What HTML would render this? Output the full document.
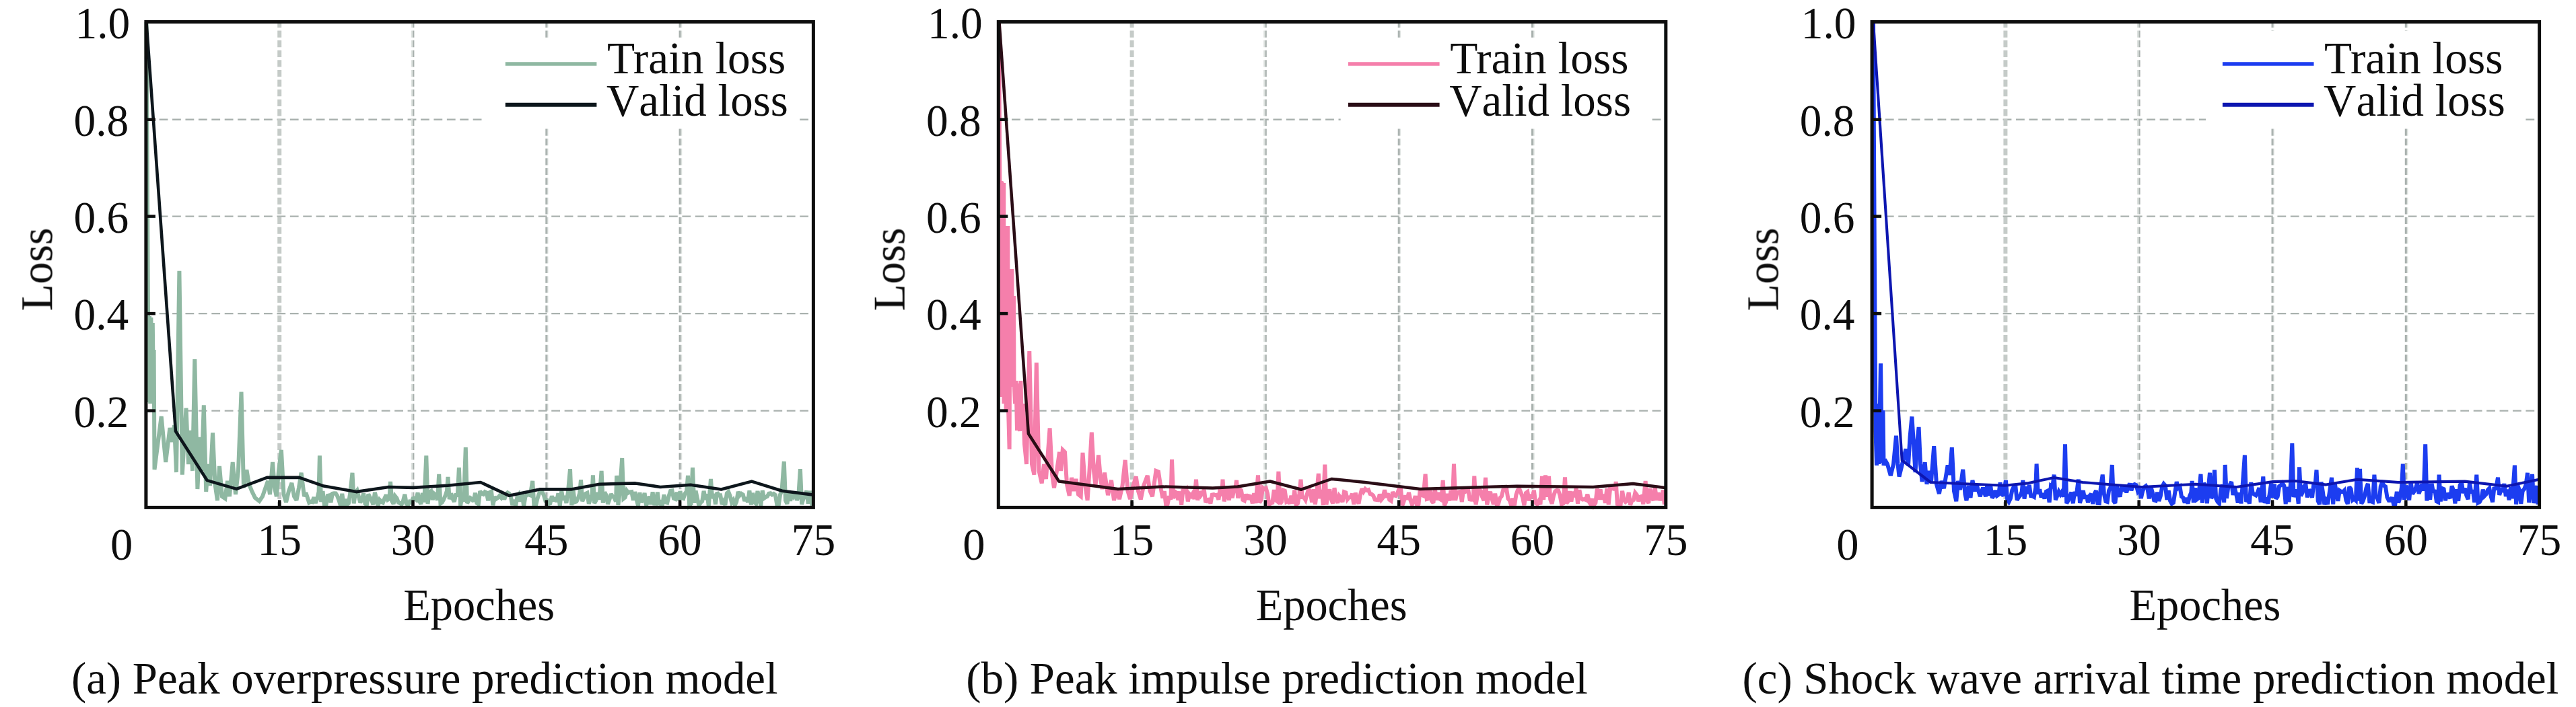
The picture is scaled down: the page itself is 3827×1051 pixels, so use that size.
<!DOCTYPE html>
<html><head><meta charset="utf-8"><title>Loss curves</title>
<style>html,body{margin:0;padding:0;background:#fff}body{width:3827px;height:1051px;overflow:hidden}svg{display:block}text{font-family:"Liberation Serif",serif;font-size:67.6px;fill:#0a0a0a}</style>
</head><body>
<svg width="3827" height="1051" viewBox="0 0 3827 1051">
<rect x="0" y="0" width="3827" height="1051" fill="#ffffff"/>
<defs><filter id="soft" x="0" y="0" width="3827" height="1051" filterUnits="userSpaceOnUse"><feGaussianBlur stdDeviation="0.65"/></filter></defs>
<g filter="url(#soft)">
<g>
<line x1="217.2" y1="177.7" x2="1208.4" y2="177.7" stroke="#a9b1ae" stroke-width="2.4" stroke-dasharray="12.8 6.62"/>
<line x1="217.2" y1="321.6" x2="1208.4" y2="321.6" stroke="#a9b1ae" stroke-width="2.4" stroke-dasharray="12.8 6.62"/>
<line x1="217.2" y1="466.1" x2="1208.4" y2="466.1" stroke="#a9b1ae" stroke-width="2.4" stroke-dasharray="12.8 6.62"/>
<line x1="217.2" y1="610.6" x2="1208.4" y2="610.6" stroke="#a9b1ae" stroke-width="2.4" stroke-dasharray="12.8 6.62"/>
<line x1="415.2" y1="30.9" x2="415.2" y2="754.4" stroke="#c5cbc8" stroke-width="6.0" stroke-dasharray="10.2 4.4"/>
<line x1="612.1" y1="30.9" x2="612.1" y2="754.4" stroke="#dde2df" stroke-width="2.6" stroke-dasharray="10.2 4.4"/>
<line x1="614.3" y1="30.9" x2="614.3" y2="754.4" stroke="#a8b0ad" stroke-width="2.2" stroke-dasharray="10.2 4.4"/>
<line x1="813.8" y1="30.9" x2="813.8" y2="754.4" stroke="#dde2df" stroke-width="1.4" stroke-dasharray="10.2 4.4"/>
<line x1="811.8" y1="30.9" x2="811.8" y2="754.4" stroke="#acb4b1" stroke-width="3.0" stroke-dasharray="10.2 4.4"/>
<line x1="1012.4" y1="30.9" x2="1012.4" y2="754.4" stroke="#dde2df" stroke-width="1.7" stroke-dasharray="10.2 4.4"/>
<line x1="1010.1" y1="30.9" x2="1010.1" y2="754.4" stroke="#a8b0ad" stroke-width="3.0" stroke-dasharray="10.2 4.4"/>
<rect x="720.0" y="57.0" width="466.0" height="130.0" fill="#ffffff"/>
<polyline fill="none" stroke="#8fb8a2" stroke-width="6" stroke-linejoin="miter" stroke-miterlimit="2.5" points="217.5,33.0 219.0,300.0 220.0,468.0 221.0,598.0 222.0,470.0 223.2,600.0 224.4,472.0 225.6,596.0 226.8,480.0 228.0,590.0 228.6,520.0 229.5,698.0 239.7,619.0 246.2,687.0 252.4,636.0 256.0,657.0 259.0,632.0 262.0,702.0 266.4,402.7 270.8,705.6 276.5,606.7 280.0,690.0 283.0,640.0 286.0,700.0 289.3,534.0 293.4,727.0 297.0,650.0 299.5,700.0 302.8,602.4 306.2,731.0 309.0,690.0 312.0,722.0 316.0,643.4 319.5,720.0 323.0,744.0 326.0,693.0 330.0,738.0 334.4,741.0 338.0,715.0 341.0,738.0 345.7,687.0 350.0,735.0 354.0,700.0 358.5,582.6 362.0,725.0 366.4,698.6 370.0,720.0 374.0,729.7 379.0,740.0 385.3,745.0 390.0,738.0 393.8,727.0 398.0,715.0 401.0,735.0 405.0,687.0 408.0,725.0 410.8,738.0 414.0,700.0 417.9,668.9 421.5,735.0 425.0,746.7 429.0,730.0 433.4,718.0 437.0,738.0 440.5,743.8 444.0,725.0 447.6,702.8 452.0,738.0 454.4,732.4 456.8,739.7 459.2,747.1 461.6,745.6 464.0,746.2 466.4,739.2 468.8,747.8 471.2,741.5 473.6,730.9 474.9,677.4 477.1,746.1 479.5,730.1 481.9,750.9 484.3,751.3 486.7,736.9 489.1,736.3 491.5,747.0 493.9,733.8 496.3,733.2 498.7,733.4 501.1,737.2 503.5,743.7 505.9,751.6 508.3,734.0 510.7,751.5 513.1,742.1 515.5,750.2 517.9,748.2 520.3,732.8 523.5,702.8 525.7,748.4 528.1,731.9 530.5,729.1 532.9,738.3 535.3,747.2 537.7,742.3 540.1,733.5 542.5,748.8 544.9,750.5 547.3,734.6 549.7,739.5 552.1,744.0 554.5,750.2 556.9,732.0 559.3,742.0 561.7,751.8 564.1,743.3 566.5,745.9 568.9,747.2 571.3,740.9 573.7,735.8 576.1,742.9 578.5,741.4 580.0,716.0 582.2,744.8 584.6,749.1 587.0,737.5 589.4,740.4 591.8,746.9 594.2,748.1 596.6,749.9 599.0,744.3 601.4,734.9 603.8,748.9 606.2,750.4 608.6,745.8 611.0,747.0 613.4,741.1 615.8,740.6 618.2,742.7 620.6,732.5 623.0,744.9 625.4,749.2 627.8,732.9 630.2,746.7 633.3,677.4 635.5,749.0 637.9,731.8 640.3,730.2 642.7,743.0 645.1,734.1 647.5,736.3 649.9,743.6 652.2,705.0 654.4,748.4 656.8,746.6 659.2,742.4 661.6,736.8 664.0,729.3 665.5,709.0 667.7,742.1 670.1,733.5 672.5,741.3 674.9,745.9 677.3,733.9 679.7,738.2 681.9,695.2 684.1,751.8 686.5,738.4 688.9,745.8 691.8,665.2 694.0,748.0 696.4,744.5 698.8,740.2 701.2,741.8 703.6,745.5 706.0,732.8 708.4,747.8 710.8,749.5 713.2,730.1 715.6,733.7 718.0,734.8 720.4,731.2 722.8,732.3 725.2,744.1 727.6,731.9 730.0,730.6 732.4,751.2 734.8,738.4 737.2,741.7 739.6,740.1 742.0,737.1 744.4,739.7 746.8,733.6 749.2,742.6 751.7,734.9 754.1,732.4 756.5,733.9 758.9,738.7 761.3,750.9 763.7,743.1 766.1,752.0 768.5,738.4 770.9,735.1 773.3,745.7 775.7,733.5 778.1,752.5 780.5,738.2 782.9,735.4 785.3,735.4 787.7,736.2 791.2,715.0 793.4,751.8 795.8,752.3 798.2,742.1 800.6,734.5 803.0,729.2 805.4,730.9 807.8,736.0 810.2,744.1 812.6,743.7 815.0,749.1 817.4,748.3 819.8,737.3 822.2,744.8 824.6,739.4 827.0,746.1 829.4,733.3 831.8,751.9 834.2,729.5 836.6,743.5 839.0,737.3 841.4,747.8 843.8,732.4 847.0,697.2 849.2,751.2 851.6,729.1 854.0,746.3 856.4,745.5 858.8,740.9 861.2,733.1 863.0,713.3 865.2,745.2 867.6,739.5 870.0,734.0 872.4,732.8 874.8,748.8 877.2,741.9 879.6,735.4 880.9,706.5 883.1,748.1 885.5,743.9 887.9,732.2 890.3,742.7 893.6,700.0 895.8,747.6 898.2,731.6 900.6,736.1 903.0,749.3 905.4,742.6 907.8,734.2 910.2,738.2 912.6,739.8 915.0,745.6 916.2,707.0 918.4,750.9 920.8,731.1 924.2,681.0 926.4,741.3 928.8,739.4 931.2,729.5 933.6,732.6 936.0,731.5 938.4,731.1 940.8,743.7 943.2,731.2 945.6,742.3 948.0,751.7 950.4,732.3 952.8,746.8 955.2,742.7 957.6,733.0 960.0,751.3 962.4,746.3 964.8,737.9 967.2,749.9 969.6,731.4 972.0,748.6 974.4,748.8 976.8,731.7 979.2,750.5 981.6,747.4 984.1,750.5 986.5,735.6 988.9,746.4 991.3,747.3 993.7,737.2 996.1,729.8 998.5,729.3 1000.9,740.9 1003.3,741.9 1005.7,731.9 1008.1,743.8 1010.5,730.2 1012.9,740.2 1015.3,741.0 1017.7,733.8 1020.1,730.1 1022.0,707.0 1024.2,751.4 1026.6,749.0 1029.0,695.2 1031.2,747.7 1033.6,729.7 1036.0,741.3 1038.4,751.6 1040.8,747.0 1043.2,745.2 1045.6,729.9 1048.0,742.6 1050.4,734.5 1052.8,752.2 1056.0,712.0 1058.2,740.9 1060.6,734.2 1063.0,749.7 1065.4,731.8 1067.8,736.1 1070.2,736.2 1072.6,749.7 1075.0,745.4 1077.4,750.9 1079.8,733.5 1082.2,731.1 1084.6,737.1 1087.0,747.0 1089.4,743.5 1091.8,751.0 1094.2,745.8 1096.6,730.9 1099.0,736.4 1101.4,733.8 1103.8,735.3 1106.2,744.7 1108.6,739.4 1111.0,746.8 1113.4,729.4 1115.9,750.4 1118.3,732.8 1120.7,746.5 1123.1,748.8 1125.5,730.0 1127.9,741.7 1130.3,751.9 1132.7,729.2 1135.1,740.7 1137.5,739.0 1139.9,738.0 1142.3,733.6 1144.7,733.2 1147.1,735.3 1149.5,734.1 1151.9,735.9 1154.3,750.2 1156.7,751.3 1159.1,735.1 1161.5,729.6 1164.8,686.0 1167.0,743.9 1169.4,749.1 1171.8,733.1 1174.2,744.6 1176.6,731.2 1179.0,737.3 1181.4,733.0 1183.8,743.5 1186.2,737.7 1188.9,697.2 1191.1,749.8 1193.5,741.2 1195.9,738.5 1198.3,729.5 1200.7,748.7 1203.1,729.9 1205.5,740.7 1206.4,752.2"/>
<polyline fill="none" stroke="#0e181c" stroke-width="4.6" stroke-linejoin="round" points="217.5,33.0 260.9,641.0 307.6,714.1 351.4,726.9 396.7,709.9 444.7,709.9 481.0,722.6 529.2,731.1 577.3,724.0 614.0,724.9 665.0,721.8 714.0,717.0 756.5,736.8 801.7,727.4 848.4,727.4 890.8,719.8 944.0,718.4 981.0,724.0 1026.0,720.7 1071.5,727.5 1116.7,715.6 1162.0,729.8 1206.5,735.4"/>
<rect x="216.9" y="32.5" width="991.5" height="721.9" fill="none" stroke="#080a0a" stroke-width="5"/>
<line x1="216.9" y1="177.7" x2="230.9" y2="177.7" stroke="#080a0a" stroke-width="4.5"/>
<line x1="216.9" y1="321.6" x2="230.9" y2="321.6" stroke="#080a0a" stroke-width="4.5"/>
<line x1="216.9" y1="466.1" x2="230.9" y2="466.1" stroke="#080a0a" stroke-width="4.5"/>
<line x1="216.9" y1="610.6" x2="230.9" y2="610.6" stroke="#080a0a" stroke-width="4.5"/>
<line x1="415.2" y1="754.4" x2="415.2" y2="743.4" stroke="#080a0a" stroke-width="4.5"/>
<line x1="613.5" y1="754.4" x2="613.5" y2="743.4" stroke="#080a0a" stroke-width="4.5"/>
<line x1="811.8" y1="754.4" x2="811.8" y2="743.4" stroke="#080a0a" stroke-width="4.5"/>
<line x1="1010.1" y1="754.4" x2="1010.1" y2="743.4" stroke="#080a0a" stroke-width="4.5"/>
<text transform="translate(193.3,56.5) scale(0.9670,1)" text-anchor="end">1.0</text>
<text transform="translate(191.3,201.7) scale(0.9670,1)" text-anchor="end">0.8</text>
<text transform="translate(191.3,345.6) scale(0.9670,1)" text-anchor="end">0.6</text>
<text transform="translate(191.3,490.1) scale(0.9670,1)" text-anchor="end">0.4</text>
<text transform="translate(191.3,634.6) scale(0.9670,1)" text-anchor="end">0.2</text>
<text transform="translate(180.6,832.2) scale(0.9850,1)" text-anchor="middle">0</text>
<text transform="translate(415.2,824.6) scale(0.9670,1)" text-anchor="middle">15</text>
<text transform="translate(613.5,824.6) scale(0.9670,1)" text-anchor="middle">30</text>
<text transform="translate(811.8,824.6) scale(0.9670,1)" text-anchor="middle">45</text>
<text transform="translate(1010.1,824.6) scale(0.9670,1)" text-anchor="middle">60</text>
<text transform="translate(1208.4,824.6) scale(0.9670,1)" text-anchor="middle">75</text>
<text transform="translate(711.7,922.3) scale(0.9820,1)" text-anchor="middle">Epoches</text>
<text transform="translate(77.3,400.5) rotate(-90) scale(0.9690,1)" text-anchor="middle">Loss</text>
<text transform="translate(630.7,1030.8) scale(0.9880,1)" text-anchor="middle">(a) Peak overpressure prediction model</text>
<line x1="750.8" y1="95" x2="886.4" y2="95" stroke="#8fb8a2" stroke-width="5.7"/>
<line x1="750.8" y1="155.8" x2="886.4" y2="155.8" stroke="#0e181c" stroke-width="6"/>
<text transform="translate(902.0,109.0) scale(0.9970,1)" text-anchor="start">Train loss</text>
<text transform="translate(901.0,171.9) scale(0.9910,1)" text-anchor="start" style="font-kerning:none">Valid loss</text>
</g>
<g>
<line x1="1483.6" y1="177.7" x2="2474.8" y2="177.7" stroke="#a9b1ae" stroke-width="2.4" stroke-dasharray="12.8 6.62"/>
<line x1="1483.6" y1="321.6" x2="2474.8" y2="321.6" stroke="#a9b1ae" stroke-width="2.4" stroke-dasharray="12.8 6.62"/>
<line x1="1483.6" y1="466.1" x2="2474.8" y2="466.1" stroke="#a9b1ae" stroke-width="2.4" stroke-dasharray="12.8 6.62"/>
<line x1="1483.6" y1="610.6" x2="2474.8" y2="610.6" stroke="#a9b1ae" stroke-width="2.4" stroke-dasharray="12.8 6.62"/>
<line x1="1681.6" y1="30.9" x2="1681.6" y2="754.4" stroke="#c5cbc8" stroke-width="6.0" stroke-dasharray="10.2 4.4"/>
<line x1="1878.5" y1="30.9" x2="1878.5" y2="754.4" stroke="#dde2df" stroke-width="2.6" stroke-dasharray="10.2 4.4"/>
<line x1="1880.7" y1="30.9" x2="1880.7" y2="754.4" stroke="#a8b0ad" stroke-width="2.2" stroke-dasharray="10.2 4.4"/>
<line x1="2080.2" y1="30.9" x2="2080.2" y2="754.4" stroke="#dde2df" stroke-width="1.4" stroke-dasharray="10.2 4.4"/>
<line x1="2078.2" y1="30.9" x2="2078.2" y2="754.4" stroke="#acb4b1" stroke-width="3.0" stroke-dasharray="10.2 4.4"/>
<line x1="2278.8" y1="30.9" x2="2278.8" y2="754.4" stroke="#dde2df" stroke-width="1.7" stroke-dasharray="10.2 4.4"/>
<line x1="2276.5" y1="30.9" x2="2276.5" y2="754.4" stroke="#a8b0ad" stroke-width="3.0" stroke-dasharray="10.2 4.4"/>
<rect x="1991.7" y="57.0" width="460.7" height="130.0" fill="#ffffff"/>
<polyline fill="none" stroke="#f57fab" stroke-width="6" stroke-linejoin="miter" stroke-miterlimit="2.5" points="1484.0,33.0 1485.3,270.0 1488.5,272.0 1488.8,590.0 1491.2,272.0 1491.5,600.0 1494.3,336.0 1494.6,610.0 1497.3,336.0 1497.6,590.0 1499.6,668.0 1500.6,400.0 1501.0,575.0 1503.4,400.0 1503.8,566.0 1506.0,440.0 1506.5,566.0 1508.0,600.0 1509.5,566.0 1511.0,640.0 1512.5,570.0 1514.0,630.0 1515.0,641.0 1516.5,566.0 1518.0,640.0 1520.0,600.0 1522.0,660.0 1525.0,690.0 1529.3,522.0 1533.0,690.0 1536.4,705.6 1539.8,539.0 1543.5,700.0 1547.7,718.4 1551.0,690.0 1554.0,712.0 1559.6,636.4 1563.0,705.0 1566.0,725.4 1570.0,700.0 1574.0,672.0 1576.0,700.0 1578.8,668.9 1582.0,672.0 1585.0,720.0 1588.7,736.8 1592.0,710.0 1595.0,730.0 1598.5,712.0 1602.0,735.0 1605.7,738.0 1608.5,673.0 1612.0,720.0 1615.6,743.8 1618.5,700.0 1621.8,642.6 1625.0,700.0 1627.5,722.0 1632.0,676.5 1635.0,712.0 1637.5,727.0 1641.0,702.8 1646.0,736.0 1651.0,714.0 1655.0,743.8 1659.0,728.0 1663.0,742.0 1667.5,722.0 1671.6,683.9 1675.5,730.0 1679.0,742.0 1683.5,722.0 1687.7,708.5 1691.0,730.0 1694.8,742.4 1699.0,722.0 1704.7,707.0 1708.5,730.0 1712.0,738.0 1717.4,700.0 1721.0,701.4 1725.0,728.0 1727.4,740.4 1729.8,730.2 1732.2,750.6 1734.6,749.5 1737.0,737.4 1739.4,742.6 1741.0,683.0 1743.2,741.1 1745.6,730.9 1748.0,732.6 1750.4,743.3 1752.8,730.6 1755.2,750.7 1757.6,726.9 1760.0,730.1 1762.4,727.4 1764.8,745.4 1767.2,734.7 1769.6,737.5 1772.0,733.6 1774.4,741.9 1777.0,712.7 1779.2,743.6 1781.6,730.5 1784.0,736.4 1786.4,733.1 1788.8,727.9 1791.2,746.8 1793.6,743.0 1796.0,742.6 1798.4,748.4 1800.8,735.5 1803.2,735.1 1805.6,736.2 1808.0,735.7 1810.4,742.7 1812.8,725.2 1815.2,737.3 1816.5,712.7 1818.7,745.3 1821.1,734.2 1823.5,725.6 1825.9,743.7 1828.3,725.3 1830.7,740.0 1833.1,729.1 1835.5,725.9 1837.0,714.0 1839.2,740.6 1841.6,726.7 1844.0,729.0 1846.4,743.1 1848.8,744.3 1851.2,734.6 1853.6,742.3 1856.0,737.6 1858.4,738.2 1860.8,748.2 1863.2,733.2 1865.6,748.1 1869.0,706.5 1871.2,747.4 1873.6,743.1 1876.0,725.2 1878.4,727.2 1880.8,725.8 1883.2,734.2 1885.6,750.1 1888.0,748.2 1890.4,747.2 1892.8,728.2 1895.2,743.7 1897.6,745.5 1899.4,700.8 1901.6,749.0 1904.0,746.0 1906.4,728.7 1908.8,729.7 1911.2,746.0 1913.6,744.6 1916.0,748.6 1918.4,736.8 1920.8,748.6 1923.2,728.7 1925.6,750.4 1928.0,748.4 1930.4,733.9 1932.5,712.7 1934.7,739.1 1937.1,739.5 1939.5,743.3 1941.9,734.3 1944.3,726.5 1946.7,732.4 1949.1,746.8 1951.5,727.4 1953.9,749.8 1956.3,731.6 1958.8,704.0 1961.0,741.0 1963.4,728.0 1965.8,751.0 1968.3,690.7 1970.5,750.2 1972.9,733.5 1975.3,727.5 1977.7,742.3 1980.1,748.5 1982.5,725.3 1984.9,741.8 1987.3,747.7 1989.7,737.2 1992.1,740.1 1994.5,746.3 1996.9,731.3 1999.3,732.2 2001.7,742.5 2004.1,739.6 2006.5,739.2 2008.9,733.9 2011.3,749.8 2013.7,732.6 2016.1,743.0 2018.5,748.7 2020.9,735.6 2023.3,726.4 2025.7,730.8 2028.2,726.8 2030.6,728.9 2033.0,728.2 2035.4,734.1 2037.8,734.8 2040.2,736.9 2042.6,742.6 2045.0,742.9 2047.4,743.2 2049.8,734.7 2052.2,742.6 2054.6,739.6 2057.0,728.4 2059.4,739.5 2061.8,733.4 2064.2,742.9 2066.6,744.5 2069.0,731.4 2071.4,736.5 2073.8,737.1 2076.2,732.9 2078.6,726.1 2081.0,726.3 2083.4,751.3 2085.8,744.6 2088.2,736.6 2090.6,742.7 2093.0,732.1 2095.5,743.8 2097.9,750.2 2100.3,745.5 2102.7,737.3 2105.1,751.1 2107.5,749.4 2109.9,726.5 2112.3,735.9 2114.7,737.0 2117.6,704.8 2119.8,741.9 2122.2,741.3 2124.6,728.8 2127.0,744.8 2129.4,747.7 2131.8,726.6 2134.2,743.3 2136.6,732.0 2139.0,741.9 2141.4,743.3 2143.7,714.0 2145.9,751.2 2148.3,746.1 2150.7,734.0 2153.1,744.3 2155.5,728.9 2157.9,743.9 2160.0,689.5 2162.2,743.8 2164.6,732.0 2167.0,731.3 2169.4,730.7 2171.8,746.1 2174.2,727.5 2176.6,731.2 2179.0,730.1 2181.4,729.2 2183.8,744.3 2186.2,740.6 2188.6,742.6 2190.3,707.6 2192.5,750.2 2194.9,736.9 2197.3,726.0 2199.7,730.0 2202.1,738.7 2204.5,744.0 2207.0,710.0 2209.2,750.4 2211.6,738.5 2214.0,731.0 2216.4,740.7 2218.8,749.8 2221.2,733.8 2223.6,749.7 2226.0,749.0 2228.4,740.3 2230.8,737.7 2233.2,728.4 2235.6,727.9 2238.0,726.1 2240.4,741.2 2242.8,743.9 2245.2,751.3 2247.6,741.0 2250.0,751.3 2252.4,735.7 2254.8,728.5 2257.2,726.6 2259.6,732.6 2262.0,739.1 2264.4,751.1 2266.9,732.9 2269.3,731.2 2271.7,744.2 2274.1,735.3 2276.5,739.8 2278.9,729.0 2281.3,747.6 2283.7,749.4 2286.1,745.0 2288.5,749.8 2291.0,708.0 2293.2,742.7 2296.0,706.5 2298.2,738.7 2301.0,708.0 2303.2,742.3 2305.6,748.8 2308.0,737.4 2310.4,730.3 2312.8,729.0 2315.2,729.4 2317.6,736.6 2320.0,749.5 2322.4,748.4 2325.0,709.4 2327.2,748.3 2329.6,745.0 2332.0,730.1 2334.4,745.6 2336.8,730.9 2339.2,738.9 2341.6,725.9 2344.0,748.6 2346.4,728.4 2348.8,740.7 2351.2,742.5 2353.6,742.1 2356.0,743.1 2358.4,734.8 2360.8,746.0 2363.2,749.9 2365.6,741.4 2368.0,751.0 2370.4,747.5 2372.8,726.5 2375.2,742.8 2377.6,727.4 2380.0,742.5 2382.4,734.8 2384.9,747.6 2387.3,726.2 2389.7,750.1 2392.1,726.2 2394.5,726.5 2396.9,725.1 2399.3,728.3 2400.7,716.0 2402.9,751.3 2405.3,747.1 2407.7,749.3 2410.1,729.9 2412.5,743.2 2414.9,746.1 2417.3,744.3 2419.7,732.1 2422.1,750.7 2424.5,744.3 2426.9,743.1 2429.3,732.5 2431.7,735.5 2434.1,745.1 2436.5,738.7 2438.9,737.9 2441.3,749.4 2444.6,715.0 2446.8,743.8 2449.2,747.8 2451.6,726.2 2454.0,739.1 2456.4,743.9 2458.8,725.3 2461.2,743.5 2463.6,732.6 2466.0,741.6 2468.4,741.5 2470.8,728.6 2472.8,750.0"/>
<polyline fill="none" stroke="#2b0a14" stroke-width="4.5" stroke-linejoin="round" points="1484.5,33.0 1527.9,644.8 1573.2,715.5 1660.8,726.9 1727.0,723.5 1801.8,725.4 1838.6,723.5 1886.7,715.5 1933.3,727.7 1978.2,712.0 2027.7,717.0 2109.7,726.9 2207.0,724.0 2253.6,722.7 2366.8,724.0 2426.0,719.0 2473.5,725.0"/>
<rect x="1483.3" y="32.5" width="991.5" height="721.9" fill="none" stroke="#080a0a" stroke-width="5"/>
<line x1="1483.3" y1="177.7" x2="1497.3" y2="177.7" stroke="#080a0a" stroke-width="4.5"/>
<line x1="1483.3" y1="321.6" x2="1497.3" y2="321.6" stroke="#080a0a" stroke-width="4.5"/>
<line x1="1483.3" y1="466.1" x2="1497.3" y2="466.1" stroke="#080a0a" stroke-width="4.5"/>
<line x1="1483.3" y1="610.6" x2="1497.3" y2="610.6" stroke="#080a0a" stroke-width="4.5"/>
<line x1="1681.6" y1="754.4" x2="1681.6" y2="743.4" stroke="#080a0a" stroke-width="4.5"/>
<line x1="1879.9" y1="754.4" x2="1879.9" y2="743.4" stroke="#080a0a" stroke-width="4.5"/>
<line x1="2078.2" y1="754.4" x2="2078.2" y2="743.4" stroke="#080a0a" stroke-width="4.5"/>
<line x1="2276.5" y1="754.4" x2="2276.5" y2="743.4" stroke="#080a0a" stroke-width="4.5"/>
<text transform="translate(1459.7,56.5) scale(0.9670,1)" text-anchor="end">1.0</text>
<text transform="translate(1457.7,201.7) scale(0.9670,1)" text-anchor="end">0.8</text>
<text transform="translate(1457.7,345.6) scale(0.9670,1)" text-anchor="end">0.6</text>
<text transform="translate(1457.7,490.1) scale(0.9670,1)" text-anchor="end">0.4</text>
<text transform="translate(1457.7,634.6) scale(0.9670,1)" text-anchor="end">0.2</text>
<text transform="translate(1447.0,832.2) scale(0.9850,1)" text-anchor="middle">0</text>
<text transform="translate(1681.6,824.6) scale(0.9670,1)" text-anchor="middle">15</text>
<text transform="translate(1879.9,824.6) scale(0.9670,1)" text-anchor="middle">30</text>
<text transform="translate(2078.2,824.6) scale(0.9670,1)" text-anchor="middle">45</text>
<text transform="translate(2276.5,824.6) scale(0.9670,1)" text-anchor="middle">60</text>
<text transform="translate(2474.8,824.6) scale(0.9670,1)" text-anchor="middle">75</text>
<text transform="translate(1978.1,922.3) scale(0.9820,1)" text-anchor="middle">Epoches</text>
<text transform="translate(1343.7,400.5) rotate(-90) scale(0.9690,1)" text-anchor="middle">Loss</text>
<text transform="translate(1897.1,1030.8) scale(0.9880,1)" text-anchor="middle">(b) Peak impulse prediction model</text>
<line x1="2003.0" y1="95" x2="2138.6" y2="95" stroke="#f57fab" stroke-width="5.7"/>
<line x1="2003.0" y1="155.8" x2="2138.6" y2="155.8" stroke="#2b0a14" stroke-width="6"/>
<text transform="translate(2154.2,109.0) scale(0.9970,1)" text-anchor="start">Train loss</text>
<text transform="translate(2153.2,171.9) scale(0.9910,1)" text-anchor="start" style="font-kerning:none">Valid loss</text>
</g>
<g>
<line x1="2781.4" y1="177.7" x2="3772.6" y2="177.7" stroke="#a9b1ae" stroke-width="2.4" stroke-dasharray="12.8 6.62"/>
<line x1="2781.4" y1="321.6" x2="3772.6" y2="321.6" stroke="#a9b1ae" stroke-width="2.4" stroke-dasharray="12.8 6.62"/>
<line x1="2781.4" y1="466.1" x2="3772.6" y2="466.1" stroke="#a9b1ae" stroke-width="2.4" stroke-dasharray="12.8 6.62"/>
<line x1="2781.4" y1="610.6" x2="3772.6" y2="610.6" stroke="#a9b1ae" stroke-width="2.4" stroke-dasharray="12.8 6.62"/>
<line x1="2979.4" y1="30.9" x2="2979.4" y2="754.4" stroke="#c5cbc8" stroke-width="6.0" stroke-dasharray="10.2 4.4"/>
<line x1="3176.3" y1="30.9" x2="3176.3" y2="754.4" stroke="#dde2df" stroke-width="2.6" stroke-dasharray="10.2 4.4"/>
<line x1="3178.5" y1="30.9" x2="3178.5" y2="754.4" stroke="#a8b0ad" stroke-width="2.2" stroke-dasharray="10.2 4.4"/>
<line x1="3378.0" y1="30.9" x2="3378.0" y2="754.4" stroke="#dde2df" stroke-width="1.4" stroke-dasharray="10.2 4.4"/>
<line x1="3376.0" y1="30.9" x2="3376.0" y2="754.4" stroke="#acb4b1" stroke-width="3.0" stroke-dasharray="10.2 4.4"/>
<line x1="3576.6" y1="30.9" x2="3576.6" y2="754.4" stroke="#dde2df" stroke-width="1.7" stroke-dasharray="10.2 4.4"/>
<line x1="3574.3" y1="30.9" x2="3574.3" y2="754.4" stroke="#a8b0ad" stroke-width="3.0" stroke-dasharray="10.2 4.4"/>
<rect x="3277.0" y="46.0" width="473.2" height="141.0" fill="#ffffff"/>
<polyline fill="none" stroke="#1f3df0" stroke-width="6" stroke-linejoin="miter" stroke-miterlimit="2.5" points="2783.0,33.0 2785.0,400.0 2786.5,640.0 2788.0,692.0 2790.5,600.0 2791.5,690.0 2794.0,540.4 2796.0,688.0 2797.5,610.0 2798.5,692.0 2800.0,683.0 2804.0,690.0 2808.8,707.0 2813.0,690.0 2817.0,647.7 2819.5,690.0 2821.5,708.5 2826.0,690.0 2831.4,667.5 2835.0,692.0 2837.5,650.0 2840.4,619.4 2843.0,660.0 2845.5,702.0 2848.0,660.0 2850.6,635.0 2853.0,690.0 2855.5,716.0 2859.7,687.3 2862.5,719.8 2866.0,700.0 2869.0,716.0 2873.2,663.2 2877.0,720.0 2880.9,734.0 2884.5,715.0 2888.0,726.0 2893.6,691.5 2896.5,706.0 2899.8,665.2 2903.0,730.0 2906.3,745.2 2909.0,715.0 2912.0,728.0 2916.2,698.0 2919.5,735.0 2921.5,744.0 2925.0,722.0 2927.5,740.0 2930.4,714.0 2934.0,730.0 2937.0,722.0 2941.7,738.0 2946.0,725.0 2950.0,738.0 2952.4,721.0 2954.8,736.9 2957.2,721.8 2959.6,740.2 2962.0,736.7 2964.4,729.1 2966.8,737.0 2969.2,735.3 2971.6,717.5 2974.0,734.0 2976.4,737.1 2979.9,714.0 2982.1,741.8 2984.5,745.9 2986.9,741.0 2989.3,728.8 2991.7,723.7 2994.1,720.4 2996.5,743.5 2998.9,739.5 3001.3,736.7 3003.7,731.0 3005.3,714.0 3007.5,741.5 3009.9,723.5 3012.3,734.0 3014.7,720.9 3017.1,737.1 3019.5,737.4 3021.9,738.8 3024.3,724.4 3025.6,689.5 3027.8,734.6 3030.2,727.3 3032.6,739.4 3035.0,733.3 3037.4,741.4 3039.8,730.7 3042.2,729.5 3044.6,746.9 3047.0,721.7 3049.4,723.1 3051.6,705.6 3053.8,743.0 3056.2,737.5 3058.6,730.7 3061.0,735.0 3063.4,731.0 3065.8,738.7 3068.0,660.4 3070.2,748.1 3072.6,744.1 3075.0,737.7 3077.4,732.0 3079.8,748.2 3082.2,731.2 3084.6,737.3 3087.8,712.7 3090.0,747.8 3092.4,739.2 3094.8,729.3 3097.2,741.3 3099.6,736.4 3102.0,747.1 3104.4,737.2 3106.8,734.1 3109.2,749.1 3111.6,733.9 3114.0,729.5 3116.4,747.9 3118.8,748.1 3121.2,721.8 3123.7,705.6 3125.9,734.2 3128.3,745.2 3130.7,746.0 3133.1,729.1 3135.5,724.7 3137.8,691.0 3140.0,744.6 3142.4,748.0 3144.8,723.2 3147.2,731.2 3149.6,738.5 3152.0,723.5 3154.4,730.1 3156.8,720.9 3159.2,732.3 3161.6,723.8 3164.0,718.7 3166.4,729.2 3168.8,721.1 3171.2,720.0 3173.6,721.1 3176.0,730.2 3178.4,726.8 3180.8,740.8 3183.2,730.1 3185.6,724.3 3188.0,722.4 3190.4,726.1 3192.8,741.3 3195.2,722.9 3197.7,731.8 3200.1,743.4 3202.5,744.2 3204.9,731.7 3207.3,744.7 3209.7,737.8 3212.1,723.7 3214.5,719.2 3216.9,721.8 3219.3,742.9 3221.7,729.2 3224.1,744.5 3226.5,748.9 3228.9,747.3 3231.3,732.0 3233.7,716.3 3236.1,725.4 3238.5,723.4 3240.9,738.1 3243.3,739.9 3245.7,747.3 3248.1,740.0 3250.5,748.6 3252.9,737.7 3255.3,732.1 3256.6,715.0 3258.8,747.2 3261.2,725.3 3263.6,742.5 3266.0,740.7 3269.5,704.8 3271.7,747.7 3274.1,718.1 3276.5,722.4 3278.9,748.3 3281.3,720.8 3283.0,702.8 3285.2,740.7 3287.6,736.5 3290.0,698.6 3292.2,741.2 3294.6,745.9 3297.0,748.5 3299.4,727.6 3301.8,720.6 3304.2,747.1 3305.7,691.0 3307.9,740.7 3310.3,724.5 3312.7,720.7 3315.1,716.3 3317.5,735.8 3319.9,725.6 3322.3,734.9 3324.7,747.4 3327.1,732.5 3329.5,748.4 3331.9,718.3 3334.9,676.5 3337.1,745.9 3339.5,741.7 3341.9,748.6 3344.3,717.1 3346.7,733.2 3349.1,734.9 3351.5,736.3 3353.9,732.0 3356.3,725.3 3358.7,746.7 3362.3,708.5 3364.5,747.9 3366.9,739.8 3369.3,748.6 3371.7,734.8 3374.1,718.7 3376.5,739.6 3378.9,719.6 3381.3,741.5 3383.7,738.1 3386.1,723.0 3388.5,721.2 3390.9,718.3 3393.3,722.0 3395.7,749.3 3398.1,723.8 3400.5,746.1 3402.9,720.6 3405.3,659.0 3407.5,738.8 3409.9,732.1 3412.3,728.2 3414.7,748.8 3416.0,694.3 3418.2,737.1 3420.6,732.4 3423.0,723.0 3425.4,719.7 3427.8,739.5 3430.2,727.5 3432.6,732.6 3435.0,739.6 3437.4,719.0 3439.8,717.9 3441.5,698.6 3443.7,744.7 3446.1,749.8 3448.5,716.6 3450.9,731.4 3453.3,749.8 3455.7,744.3 3458.1,749.6 3460.5,734.0 3464.0,710.0 3466.2,749.5 3468.6,717.9 3471.0,732.0 3473.4,744.8 3475.8,729.3 3478.2,731.0 3480.6,731.3 3483.0,728.9 3485.4,743.6 3487.8,749.1 3490.2,723.8 3492.6,727.0 3495.0,743.3 3497.4,741.3 3499.8,743.7 3502.0,695.7 3504.2,744.6 3506.0,697.0 3508.2,748.6 3510.6,744.7 3513.0,737.5 3515.4,725.6 3517.8,718.9 3520.2,745.2 3522.6,745.2 3525.0,746.3 3527.4,705.7 3529.6,737.5 3532.0,741.1 3534.4,747.6 3536.8,723.0 3539.2,716.8 3541.6,721.9 3544.0,723.4 3546.4,739.1 3548.8,743.9 3551.2,743.8 3553.6,739.4 3556.0,749.3 3558.4,749.1 3560.8,730.9 3563.2,747.3 3565.6,740.4 3568.0,724.3 3569.8,689.6 3572.0,743.0 3574.4,721.8 3576.8,729.6 3579.2,743.6 3581.6,716.3 3584.0,734.2 3586.4,730.8 3588.8,725.6 3591.2,718.2 3593.6,733.8 3596.0,727.3 3598.4,719.3 3600.8,729.6 3603.2,660.4 3605.4,744.5 3607.8,718.7 3610.2,742.7 3612.6,718.8 3615.0,732.0 3617.4,728.5 3619.8,745.2 3622.2,746.4 3623.6,705.7 3625.8,745.5 3628.2,726.0 3630.6,727.0 3633.0,744.0 3635.4,733.3 3637.8,737.6 3640.2,740.6 3642.6,722.5 3645.0,729.1 3647.4,748.4 3649.8,727.3 3652.2,744.8 3654.6,721.3 3657.0,716.5 3659.4,733.1 3661.8,725.6 3664.2,736.3 3666.6,742.2 3669.0,717.3 3671.4,733.0 3673.8,728.7 3676.2,746.8 3679.3,705.7 3681.5,747.4 3683.9,746.1 3686.3,741.2 3688.7,727.8 3691.1,737.1 3693.5,734.5 3695.9,728.5 3698.3,725.9 3700.7,738.1 3703.1,746.5 3705.5,724.2 3707.9,728.1 3711.0,709.7 3713.2,735.7 3715.6,728.4 3718.0,729.2 3720.4,719.2 3722.8,737.9 3725.2,727.7 3727.6,743.4 3730.0,724.3 3732.4,741.0 3735.9,691.6 3738.1,749.7 3740.5,721.8 3742.9,728.6 3745.3,749.0 3747.7,729.7 3750.1,727.2 3752.5,721.2 3755.0,702.9 3757.2,747.1 3759.6,727.1 3762.0,705.0 3764.2,747.9 3766.6,735.0 3769.0,722.1 3770.6,749.8"/>
<polyline fill="none" stroke="#1019b0" stroke-width="4.1" stroke-linejoin="round" points="2783.0,33.0 2825.7,684.4 2868.2,717.0 2930.4,719.8 2978.4,721.8 3012.0,718.4 3051.6,709.9 3094.0,717.0 3181.7,724.0 3262.0,719.8 3322.7,724.0 3376.4,716.1 3410.4,715.0 3455.6,720.6 3502.0,712.7 3562.7,717.0 3661.8,715.6 3724.0,722.7 3772.0,712.8"/>
<rect x="2781.1" y="32.5" width="991.5" height="721.9" fill="none" stroke="#080a0a" stroke-width="5"/>
<line x1="2781.1" y1="177.7" x2="2795.1" y2="177.7" stroke="#080a0a" stroke-width="4.5"/>
<line x1="2781.1" y1="321.6" x2="2795.1" y2="321.6" stroke="#080a0a" stroke-width="4.5"/>
<line x1="2781.1" y1="466.1" x2="2795.1" y2="466.1" stroke="#080a0a" stroke-width="4.5"/>
<line x1="2781.1" y1="610.6" x2="2795.1" y2="610.6" stroke="#080a0a" stroke-width="4.5"/>
<line x1="2979.4" y1="754.4" x2="2979.4" y2="743.4" stroke="#080a0a" stroke-width="4.5"/>
<line x1="3177.7" y1="754.4" x2="3177.7" y2="743.4" stroke="#080a0a" stroke-width="4.5"/>
<line x1="3376.0" y1="754.4" x2="3376.0" y2="743.4" stroke="#080a0a" stroke-width="4.5"/>
<line x1="3574.3" y1="754.4" x2="3574.3" y2="743.4" stroke="#080a0a" stroke-width="4.5"/>
<text transform="translate(2757.5,56.5) scale(0.9670,1)" text-anchor="end">1.0</text>
<text transform="translate(2755.5,201.7) scale(0.9670,1)" text-anchor="end">0.8</text>
<text transform="translate(2755.5,345.6) scale(0.9670,1)" text-anchor="end">0.6</text>
<text transform="translate(2755.5,490.1) scale(0.9670,1)" text-anchor="end">0.4</text>
<text transform="translate(2755.5,634.6) scale(0.9670,1)" text-anchor="end">0.2</text>
<text transform="translate(2744.8,832.2) scale(0.9850,1)" text-anchor="middle">0</text>
<text transform="translate(2979.4,824.6) scale(0.9670,1)" text-anchor="middle">15</text>
<text transform="translate(3177.7,824.6) scale(0.9670,1)" text-anchor="middle">30</text>
<text transform="translate(3376.0,824.6) scale(0.9670,1)" text-anchor="middle">45</text>
<text transform="translate(3574.3,824.6) scale(0.9670,1)" text-anchor="middle">60</text>
<text transform="translate(3772.6,824.6) scale(0.9670,1)" text-anchor="middle">75</text>
<text transform="translate(3275.9,922.3) scale(0.9820,1)" text-anchor="middle">Epoches</text>
<text transform="translate(2641.5,400.5) rotate(-90) scale(0.9690,1)" text-anchor="middle">Loss</text>
<text transform="translate(3194.9,1030.8) scale(0.9880,1)" text-anchor="middle">(c) Shock wave arrival time prediction model</text>
<line x1="3301.9" y1="95" x2="3437.5" y2="95" stroke="#1f3df0" stroke-width="5.7"/>
<line x1="3301.9" y1="155.8" x2="3437.5" y2="155.8" stroke="#1019b0" stroke-width="6"/>
<text transform="translate(3453.1,109.0) scale(0.9970,1)" text-anchor="start">Train loss</text>
<text transform="translate(3452.1,171.9) scale(0.9910,1)" text-anchor="start" style="font-kerning:none">Valid loss</text>
</g>
</g>
</svg></body></html>
